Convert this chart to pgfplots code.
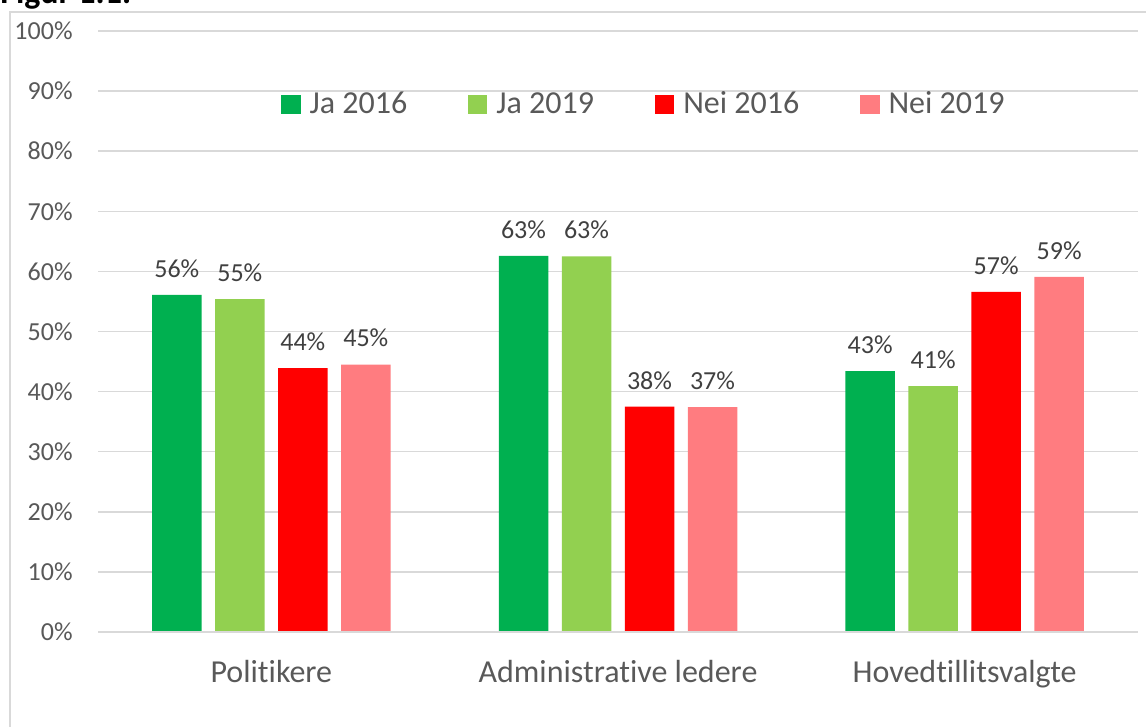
\documentclass[border=0pt]{standalone}
\usepackage{pgfplots}
\pgfplotsset{compat=1.18}
\usepackage{fontspec}
\setmainfont{Carlito}[Ligatures=NoCommon]
\definecolor{cA}{HTML}{00B050}
\definecolor{cB}{HTML}{92D050}
\definecolor{cC}{HTML}{FF0000}
\definecolor{cD}{HTML}{FF7C80}
\definecolor{gridc}{HTML}{D9D9D9}
\definecolor{txt}{HTML}{595959}
\definecolor{lbl}{HTML}{404040}
\pgfplotsset{sqlegend/.style={legend image code/.code={\fill[##1] (0pt,-4.8pt) rectangle (9.6pt,4.8pt);}}}
\begin{document}
\begin{tikzpicture}[x=1pt,y=1pt]
\useasboundingbox (0,0) rectangle (573,363.5);
\clip (0,0) rectangle (573,363.5);
\draw[color=gridc, line width=0.75pt] (5,-10) rectangle (600,357.5);
\node[anchor=base west, font=\bfseries\fontsize{17}{20}\selectfont, inner sep=0pt] at (0,361.5) {Figur 1.1.};
\begin{axis}[
  at={(49pt,47.5pt)}, anchor=south west,
  scale only axis, width=520pt, height=300.5pt,
  ymin=0, ymax=100, xmin=-0.5, xmax=2.5,
  ybar=6.75pt, bar width=24.75pt,
  axis line style={draw=none},
  ymajorgrids, grid style={gridc, line width=0.75pt},
  major tick length=0pt,
  ytick={0,10,...,100},
  yticklabel={\pgfmathprintnumber{\tick}\%},
  /pgf/number format/assume math mode=true,
  yticklabel style={anchor=east, inner sep=0pt, xshift=-12.5pt, font=\fontsize{13}{15}\selectfont, text=txt},
  xtick={0,1,2},
  xticklabels={Politikere, Administrative ledere, Hovedtillitsvalgte},
  xticklabel style={anchor=north, inner sep=0pt, yshift=-14pt, font=\fontsize{16}{19}\selectfont, text=txt},
  point meta=explicit symbolic,
  nodes near coords={\pgfplotspointmeta\%},
  nodes near coords style={anchor=south, inner sep=0pt, yshift=8.5pt, font=\fontsize{13}{15}\selectfont, text=lbl},
  legend columns=4,
  legend style={at={(axis description cs:0.176,0.878)}, anchor=west, draw=none, fill=none, inner sep=0pt,
    font=\fontsize{16}{19}\selectfont, text=txt,
    /tikz/every odd column/.append style={column sep=2.5pt},
    /tikz/every even column/.append style={column sep=28.5pt}},
  legend cell align=left,
]
\addplot[fill=cA, draw=none, sqlegend] coordinates {(0,56.1) [56] (1,62.6) [63] (2,43.4) [43]};
\addplot[fill=cB, draw=none, sqlegend] coordinates {(0,55.4) [55] (1,62.5) [63] (2,40.9) [41]};
\addplot[fill=cC, draw=none, sqlegend] coordinates {(0,43.9) [44] (1,37.5) [38] (2,56.6) [57]};
\addplot[fill=cD, draw=none, sqlegend] coordinates {(0,44.5) [45] (1,37.4) [37] (2,59.1) [59]};
\legend{Ja 2016, Ja 2019, Nei 2016, Nei 2019}
\draw[gridc, line width=0.75pt] (axis cs:-0.5,0) -- (axis cs:2.5,0);
\end{axis}
\end{tikzpicture}
\end{document}
